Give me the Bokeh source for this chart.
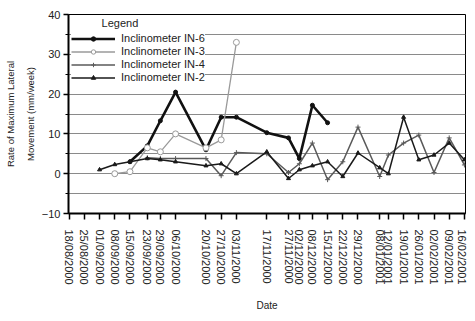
import math
from datetime import datetime
import numpy as np
from bokeh.plotting import figure
from bokeh.models import (Range1d, FixedTicker, DatetimeTickFormatter, Legend, LegendItem,
                          ColumnDataSource, LinearAxis)
from bokeh.embed import file_html
from bokeh.resources import INLINE

dates = ["18/08/2000", "25/08/2000", "01/09/2000", "08/09/2000", "15/09/2000", "23/09/2000",
         "29/09/2000", "06/10/2000", "20/10/2000", "27/10/2000", "03/11/2000", "17/11/2000",
         "27/11/2000", "02/12/2000", "08/12/2000", "15/12/2000", "22/12/2000", "29/12/2000",
         "08/01/2001", "12/01/2001", "19/01/2001", "26/01/2001", "02/02/2001", "09/02/2001",
         "16/02/2001"]

in6 = [None, None, None, None, 3.0, 7.0, 13.3, 20.5, 6.0, 14.2, 14.2, 10.3, 9.0, 3.8, 17.2, 12.8,
       None, None, None, None, None, None, None, None, None]
in3 = [None, None, None, 0.0, 0.5, 6.5, 5.5, 10.0, 6.5, 8.5, 33.0,
       None, None, None, None, None, None, None, None, None, None, None, None, None, None]
in4 = [None, None, None, None, None, 4.0, 3.8, 3.8, 3.8, -0.5, 5.3, 5.0, 0.3, 2.5, 7.7, -1.5,
       3.0, 11.7, -0.7, 4.7, 7.7, 9.7, 0.3, 9.0, 2.2]
in2 = [None, None, 1.0, 2.3, 3.0, 3.8, 3.5, 3.0, 2.0, 2.5, 0.0, 5.5, -1.2, 1.0, 2.0, 3.0,
       -0.7, 5.2, 1.5, 0.0, 14.2, 3.5, 4.7, 7.7, 3.5]

names = ["Inclinometer IN-6", "Inclinometer IN-3", "Inclinometer IN-4", "Inclinometer IN-2"]
y_ticks = [-10, 0, 10, 20, 30, 40]
y_title_1 = "Rate of Maximum Lateral"
y_title_2 = "Movement (mm/week)"
x_title = "Date"
legend_title = "Legend"

xd = [datetime.strptime(d, "%d/%m/%Y") for d in dates]
xms = [(d - datetime(1970, 1, 1)).total_seconds() * 1000.0 for d in xd]
DAY = 86400000.0

FONT = "Liberation Sans"
TXT = "#222222"

p = figure(width=467, height=313, x_axis_type="datetime", output_backend="svg",
           toolbar_location=None, min_border_left=68, min_border_top=14,
           min_border_right=2, min_border_bottom=60)
p.x_range = Range1d(xms[0] - 0.3 * DAY, xms[-1] + 0.5 * DAY)
p.y_range = Range1d(-10, 40)
p.background_fill_color = "white"
p.outline_line_color = "black"
p.outline_line_width = 1

# grid
p.xgrid.grid_line_color = None
p.ygrid.ticker = FixedTicker(ticks=[-5, 0, 5, 10, 15, 20, 25, 30, 35, 40])
p.ygrid.grid_line_color = "#8a8a8a"
p.ygrid.grid_line_width = 1.2

# y axis
ya = p.yaxis[0]
ya.ticker = FixedTicker(ticks=y_ticks, minor_ticks=[-5, 5, 15, 25, 35])
ya.axis_line_width = 2
ya.axis_line_color = "black"
ya.major_tick_out = 5
ya.major_tick_in = 0
ya.minor_tick_out = 3
ya.minor_tick_in = 0
ya.major_tick_line_width = 1.5
ya.major_label_text_font = FONT
ya.major_label_text_font_size = "11px"
ya.major_label_text_color = TXT
ya.major_label_standoff = 3
ya.axis_label = y_title_2
ya.axis_label_text_font = FONT
ya.axis_label_text_font_size = "9.5px"
ya.axis_label_text_font_style = "normal"
ya.axis_label_text_color = TXT
ya.axis_label_standoff = 3

# outer axis carrying the first line of the y title
ya2 = LinearAxis(axis_label=y_title_1, ticker=FixedTicker(ticks=[]),
                 axis_line_color=None, major_tick_line_color=None, minor_tick_line_color=None,
                 major_tick_out=0, major_tick_in=0, minor_tick_out=0, minor_tick_in=0,
                 major_label_standoff=0,
                 major_label_text_font_size="0px", axis_label_standoff=6,
                 axis_label_text_font=FONT, axis_label_text_font_size="9.5px",
                 axis_label_text_font_style="normal", axis_label_text_color=TXT)
p.add_layout(ya2, "left")

# x axis
xa = p.xaxis[0]
xa.ticker = FixedTicker(ticks=xms, minor_ticks=[])
fmt = "%d/%m/%Y"
xa.formatter = DatetimeTickFormatter(milliseconds=fmt, seconds=fmt, minsec=fmt, minutes=fmt,
                                     hourmin=fmt, hours=fmt, days=fmt, months=fmt, years=fmt)
xa.major_label_orientation = "vertical"
xa.axis_line_width = 2
xa.major_tick_out = 6
xa.major_tick_in = 0
xa.major_tick_line_width = 1.5
xa.minor_tick_out = 0
xa.major_label_text_font = FONT
xa.major_label_text_font_size = "11px"
xa.major_label_text_color = TXT
xa.major_label_standoff = 10
xa.axis_label = x_title
xa.axis_label_text_font = FONT
xa.axis_label_text_font_size = "10px"
xa.axis_label_text_font_style = "normal"
xa.axis_label_text_color = TXT
xa.axis_label_standoff = 12


def arr(v):
    return np.array([np.nan if a is None else a for a in v], dtype=float)


styles = [
    dict(color="#111111", width=2.6, marker="circle", size=4, fill="#111111"),
    dict(color="#9a9a9a", width=1.3, marker="circle", size=6, fill="white"),
    dict(color="#5a5a5a", width=1.5, marker="cross", size=5, fill="#5a5a5a"),
    dict(color="#1a1a1a", width=1.5, marker="triangle", size=4, fill="#1a1a1a"),
]

items = []
for name, vals, st in zip(names, [in6, in3, in4, in2], styles):
    y = arr(vals)
    src = ColumnDataSource(dict(x=xms, y=y))
    r1 = p.line("x", "y", source=src, line_color=st["color"], line_width=st["width"])
    mask = ~np.isnan(y)
    src2 = ColumnDataSource(dict(x=list(np.array(xms)[mask]), y=list(y[mask])))
    r2 = p.scatter("x", "y", source=src2, marker=st["marker"], size=st["size"],
                   line_color=st["color"], fill_color=st["fill"], line_width=1)
    items.append(LegendItem(label=name, renderers=[r1, r2]))

legend = Legend(items=items, location="top_left", title="\u00a0" * 10 + legend_title)
legend.title_text_font = FONT
legend.title_text_font_size = "11px"
legend.title_text_font_style = "normal"
legend.title_text_color = TXT
legend.title_standoff = 3
legend.label_text_font = FONT
legend.label_text_font_size = "11px"
legend.label_text_color = TXT
legend.label_height = 11
legend.glyph_height = 11
legend.glyph_width = 44
legend.label_standoff = 6
legend.spacing = 1
legend.padding = 3
legend.margin = 3
legend.border_line_color = None
legend.background_fill_color = "white"
legend.background_fill_alpha = 1.0
p.add_layout(legend)

open("out.html", "w").write(file_html(p, INLINE))
